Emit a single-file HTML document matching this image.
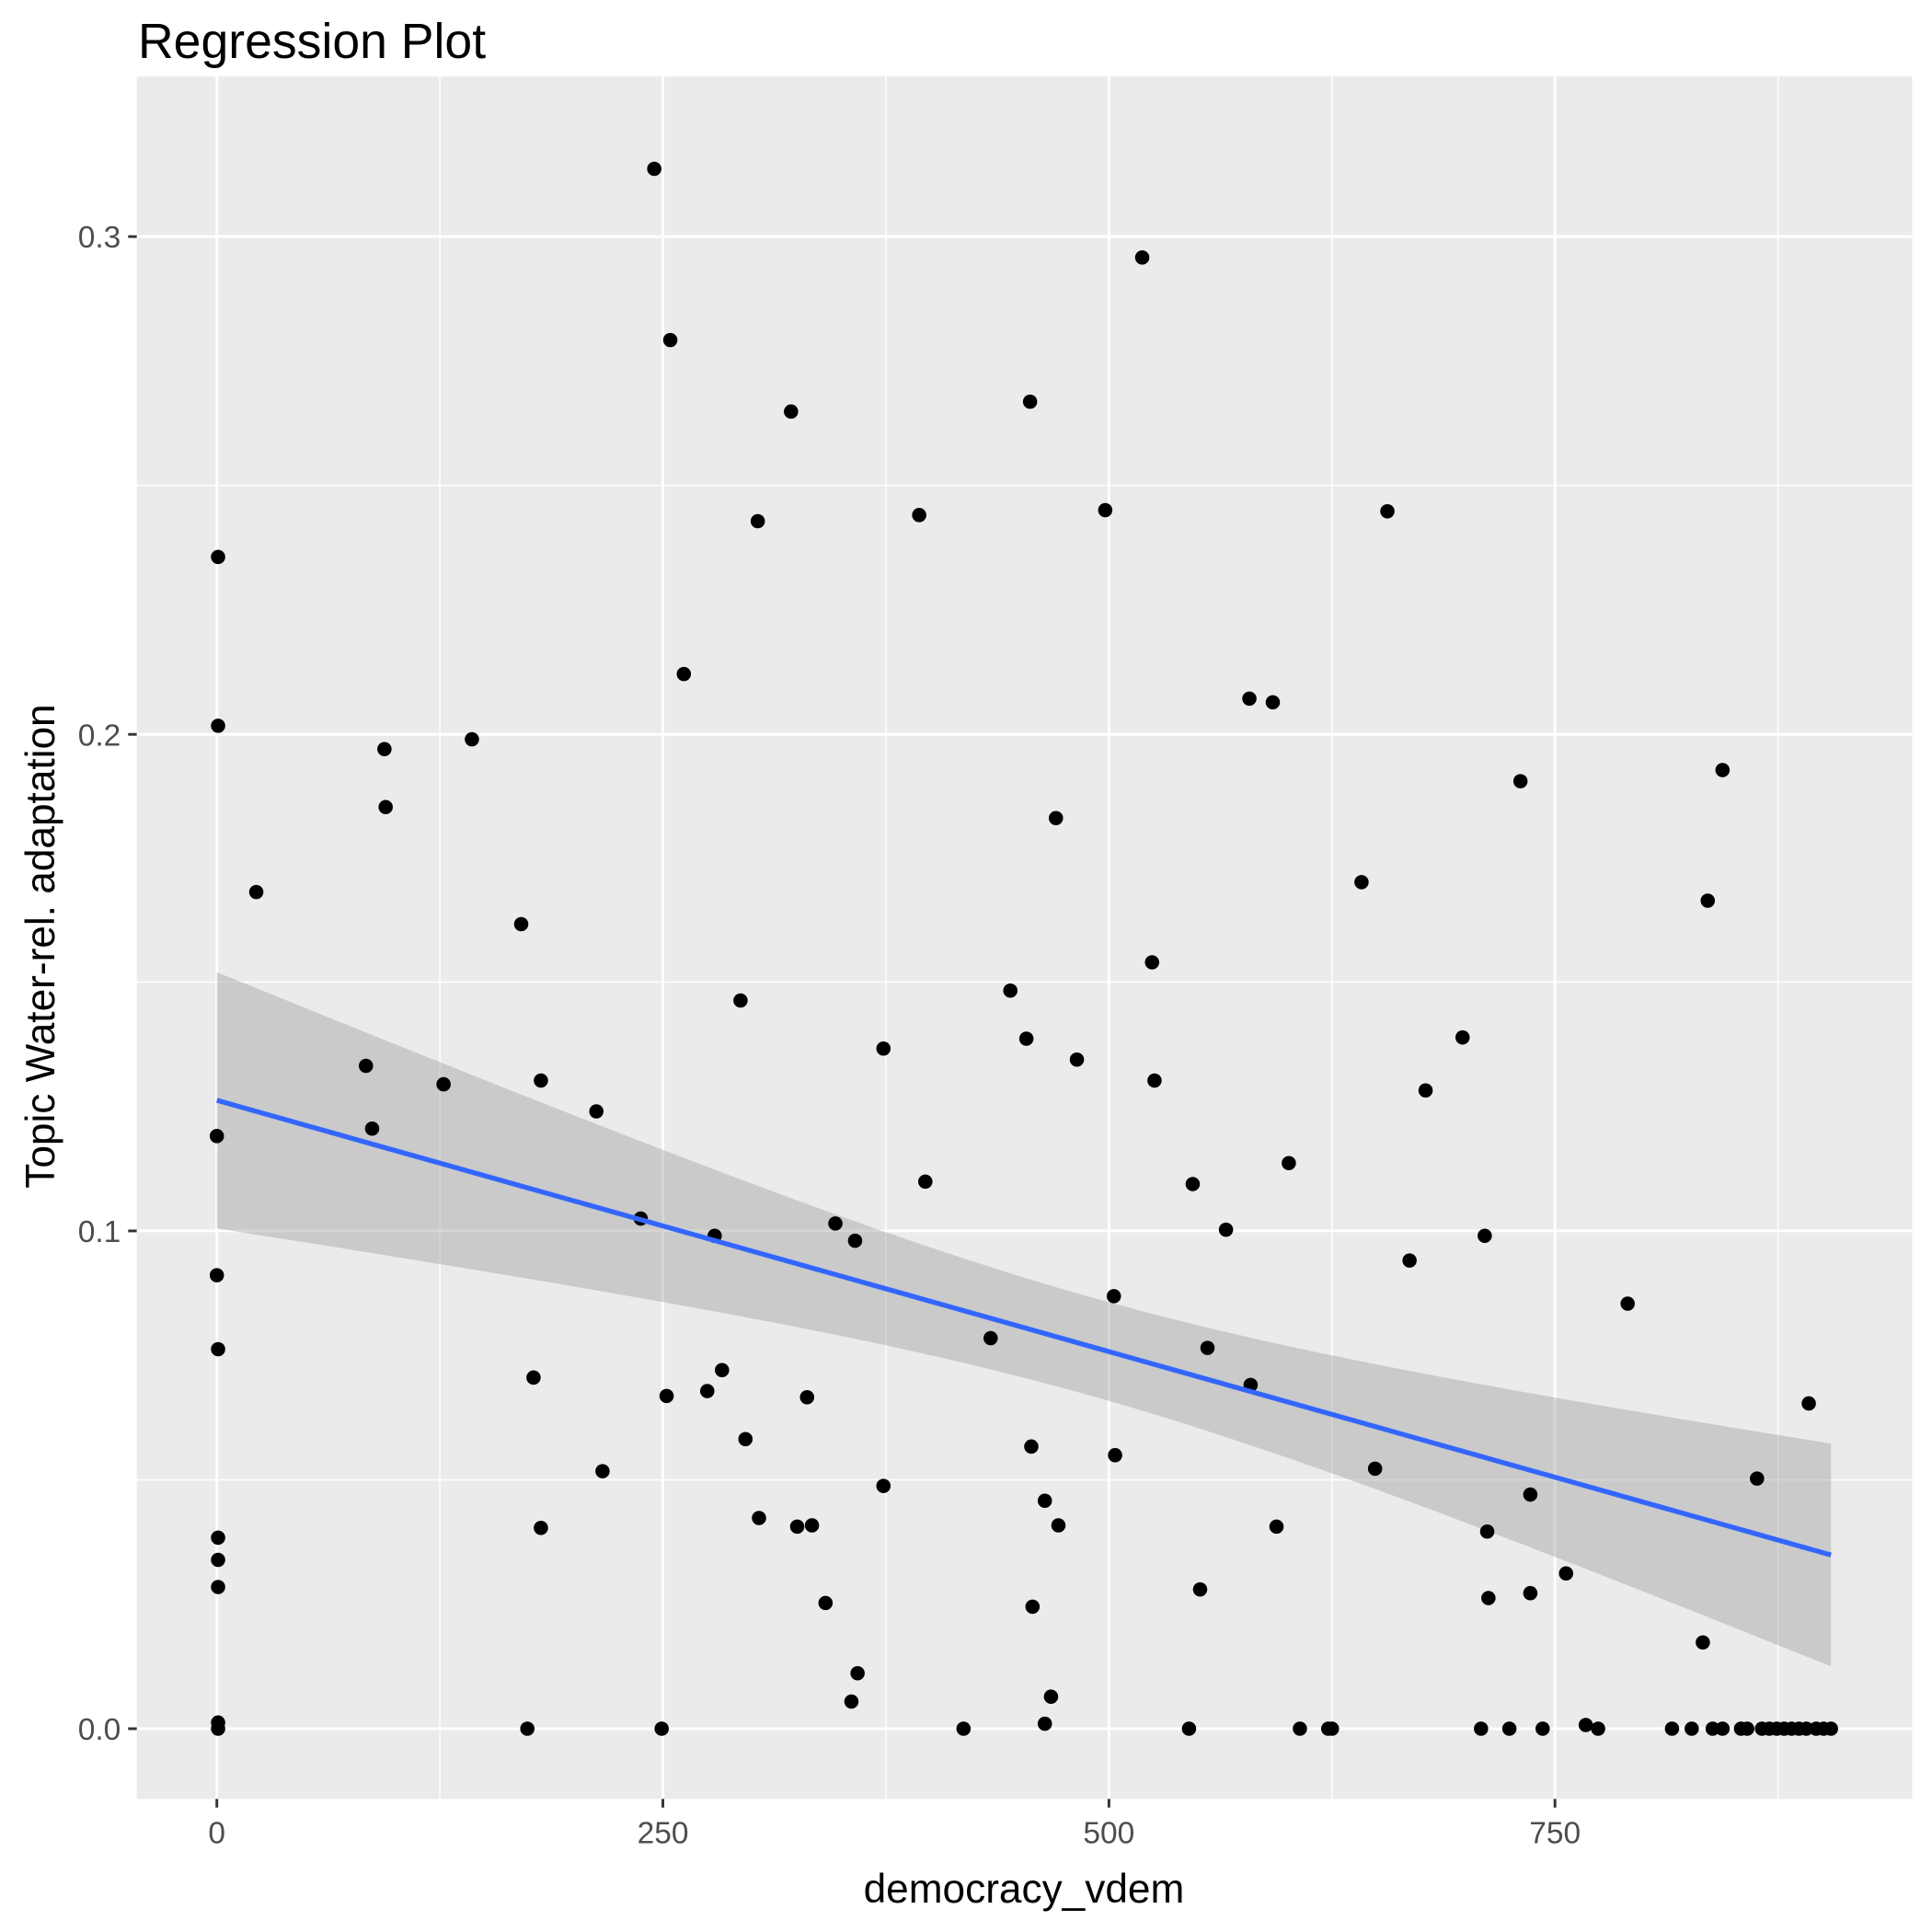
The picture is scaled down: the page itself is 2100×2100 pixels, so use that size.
<!DOCTYPE html>
<html><head><style>html,body{margin:0;padding:0;background:#fff}svg{display:block}</style></head>
<body>
<svg id="s" width="2100" height="2100" viewBox="0 0 1568 1568" xmlns="http://www.w3.org/2000/svg" font-family="Liberation Sans, sans-serif">
<rect x="0" y="0" width="1568" height="1568" fill="#fff"/>
<rect x="111" y="62" width="1441" height="1398" fill="#ebebeb"/>
<g stroke="#fff" stroke-width="1.1">
<line x1="357" y1="62" x2="357" y2="1460"/><line x1="719" y1="62" x2="719" y2="1460"/><line x1="1081" y1="62" x2="1081" y2="1460"/><line x1="1443" y1="62" x2="1443" y2="1460"/>
<line x1="111" y1="394" x2="1552" y2="394"/><line x1="111" y1="797" x2="1552" y2="797"/><line x1="111" y1="1201" x2="1552" y2="1201"/>
</g>
<g stroke="#fff" stroke-width="2.2">
<line x1="176" y1="62" x2="176" y2="1460"/><line x1="538" y1="62" x2="538" y2="1460"/><line x1="900" y1="62" x2="900" y2="1460"/><line x1="1262" y1="62" x2="1262" y2="1460"/>
<line x1="111" y1="192" x2="1552" y2="192"/><line x1="111" y1="596" x2="1552" y2="596"/><line x1="111" y1="999" x2="1552" y2="999"/><line x1="111" y1="1403" x2="1552" y2="1403"/>
</g>
<polygon id="rib" fill="#999" fill-opacity="0.4"/>
<g id="pts" fill="#000"></g>
<line x1="176" y1="893" x2="1486" y2="1262" stroke="#3366ff" stroke-width="4"/>
<g stroke="#333" stroke-width="2.2">
<line x1="104" y1="192" x2="111" y2="192"/><line x1="104" y1="596" x2="111" y2="596"/><line x1="104" y1="999" x2="111" y2="999"/><line x1="104" y1="1403" x2="111" y2="1403"/>
<line x1="176" y1="1460" x2="176" y2="1467"/><line x1="538" y1="1460" x2="538" y2="1467"/><line x1="900" y1="1460" x2="900" y2="1467"/><line x1="1262" y1="1460" x2="1262" y2="1467"/>
</g>
<g fill="#4d4d4d" font-size="25" text-anchor="end">
<text x="98" y="201">0.3</text><text x="98" y="605">0.2</text><text x="98" y="1008">0.1</text><text x="98" y="1412">0.0</text>
</g>
<g fill="#4d4d4d" font-size="25" text-anchor="middle">
<text x="176" y="1496">0</text><text x="538" y="1496">250</text><text x="900" y="1496">500</text><text x="1262" y="1496">750</text>
</g>
<text x="831" y="1544" font-size="33" text-anchor="middle" fill="#000">democracy_vdem</text>
<text transform="translate(44,768) rotate(-90)" font-size="33" text-anchor="middle" fill="#000">Topic Water-rel. adaptation</text>
<text x="112" y="47" font-size="40" fill="#000">Regression Plot</text>
</svg>
<script>
var P=[[177,452],[177,589],[176,922],[176,1035],[177,1095],[177,1248],[177,1266],[177,1288],[177,1398],[177,1403],[208,724],[297,865],[302,916],[312,608],[313,655],[360,880],[383,600],[423,750],[428,1403],[433,1118],[439,877],[439,1240],[484,902],[489,1194],[520,989],[531,137],[537,1403],[541,1133],[544,276],[555,547],[574,1129],[580,1003],[586,1112],[601,812],[605,1168],[615,423],[616,1232],[642,334],[647,1239],[655,1134],[659,1238],[670,1301],[678,993],[691,1381],[694,1007],[696,1358],[717,851],[717,1206],[746,418],[751,959],[782,1403],[804,1086],[820,804],[833,843],[836,326],[837,1174],[838,1304],[848,1218],[848,1399],[853,1377],[857,664],[859,1238],[874,860],[897,414],[904,1052],[905,1181],[927,209],[935,781],[937,877],[965,1403],[968,961],[974,1290],[980,1094],[995,998],[1014,567],[1015,1124],[1033,570],[1036,1239],[1046,944],[1055,1403],[1078,1403],[1081,1403],[1105,716],[1116,1192],[1126,415],[1144,1023],[1157,885],[1187,842],[1202,1403],[1205,1003],[1207,1243],[1208,1297],[1225,1403],[1234,634],[1242,1213],[1242,1293],[1252,1403],[1271,1277],[1287,1400],[1297,1403],[1321,1058],[1357,1403],[1373,1403],[1382,1333],[1386,731],[1390,1403],[1398,625],[1398,1403],[1413,1403],[1418,1403],[1426,1200],[1430,1403],[1436,1403],[1442,1403],[1448,1403],[1454,1403],[1460,1403],[1466,1403],[1468,1139],[1474,1403],[1480,1403],[1486,1403]];
var g=document.getElementById('pts'),ns='http://www.w3.org/2000/svg';
P.forEach(function(p){var c=document.createElementNS(ns,'circle');c.setAttribute('cx',p[0]);c.setAttribute('cy',p[1]);c.setAttribute('r',5.8);g.appendChild(c);});
var up=[],lo=[];
for(var x=176;x<=1486;x+=10){var xx=Math.min(x,1486);var y=893+(xx-176)*369/1310;var h=Math.sqrt(1600+0.01828*(xx-886)*(xx-886));up.push(xx+','+(y-h).toFixed(1));lo.unshift(xx+','+(y+h).toFixed(1));}
var xx=1486,y=1262,h=Math.sqrt(1600+0.01828*600*600);up.push(xx+','+(y-h).toFixed(1));lo.unshift(xx+','+(y+h).toFixed(1));
document.getElementById('rib').setAttribute('points',up.concat(lo).join(' '));
</script>
</body></html>
